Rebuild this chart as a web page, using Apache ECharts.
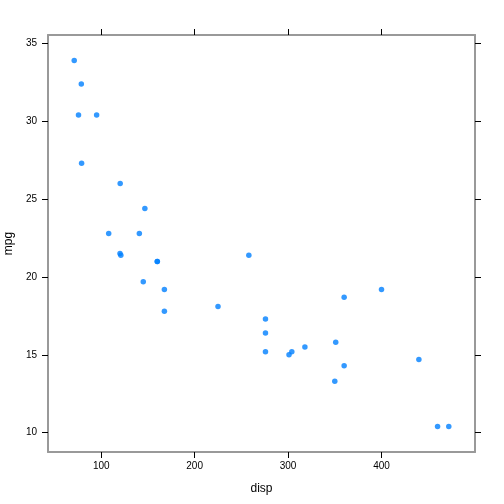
<!DOCTYPE html>
<html>
<head>
<meta charset="utf-8">
<script src="https://cdn.jsdelivr.net/npm/echarts@6/dist/echarts.min.js"></script>
<style>html,body{margin:0;padding:0;background:#fff;}#c{width:504px;height:504px;}</style>
</head>
<body>
<div id="c"></div>
<script>
var disp = [160,160,108,258,360,225,360,146.7,140.8,167.6,167.6,275.8,275.8,275.8,472,460,440,78.7,75.7,71.1,120.1,318,304,350,400,79,120.3,95.1,351,145,301,121];
var mpg = [21.0,21.0,22.8,21.4,18.7,18.1,14.3,24.4,22.8,19.2,17.8,16.4,17.3,15.2,10.4,10.4,14.7,32.4,30.4,33.9,21.5,15.5,15.2,13.3,19.2,27.3,26.0,30.4,15.8,19.7,15.0,21.4];
var xTicks = [100,200,300,400];
var yTicks = [10,15,20,25,30,35];

var pts = disp.map(function(d,i){return [d, mpg[i]];});
var xr = [Math.min.apply(null,disp), Math.max.apply(null,disp)];
var yr = [Math.min.apply(null,mpg), Math.max.apply(null,mpg)];
var xpad = (xr[1]-xr[0])*0.07, ypad = (yr[1]-yr[0])*0.07;
var font = 'Liberation Sans, Arial, Helvetica, sans-serif';
var lineCol = '#999';

function xAx(pos, labels){
  return {
    type:'value', position:pos, min:xr[0]-xpad, max:xr[1]+xpad,
    axisLine:{show:true, onZero:false, lineStyle:{color:lineCol, width:2}},
    axisTick:{show:true, customValues:xTicks, length:6, lineStyle:{color:'#000', width:1}},
    axisLabel:{show:labels, customValues:xTicks, fontSize:10, color:'#000', fontFamily:font, margin:9},
    splitLine:{show:false},
    name: labels ? 'disp' : '', nameLocation:'middle', nameGap:31,
    nameTextStyle:{fontSize:12, color:'#000', fontFamily:font}
  };
}
function yAx(pos, labels){
  return {
    type:'value', position:pos, min:yr[0]-ypad, max:yr[1]+ypad,
    axisLine:{show:true, onZero:false, lineStyle:{color:lineCol, width:2}},
    axisTick:{show:true, customValues:yTicks, length:6, lineStyle:{color:'#000', width:1}},
    axisLabel:{show:labels, customValues:yTicks, fontSize:10, color:'#000', fontFamily:font, margin:11},
    splitLine:{show:false},
    name: labels ? 'mpg' : '', nameLocation:'middle', nameGap:26, nameRotate:90,
    nameTextStyle:{fontSize:12, color:'#000', fontFamily:font}
  };
}

var chart = echarts.init(document.getElementById('c'), null, {renderer:'canvas'});
chart.setOption({
  animation:false,
  backgroundColor:'#fff',
  grid:{left:48, right:29, top:35, bottom:52, containLabel:false, outerBoundsMode:'none'},
  xAxis:[xAx('bottom', true), xAx('top', false)],
  yAxis:[yAx('left', true), yAx('right', false)],
  series:[{
    type:'scatter', xAxisIndex:0, yAxisIndex:0, data:pts,
    symbol:'circle', symbolSize:5.5,
    itemStyle:{color:'#0080ff'}
  }]
});
</script>
</body>
</html>
